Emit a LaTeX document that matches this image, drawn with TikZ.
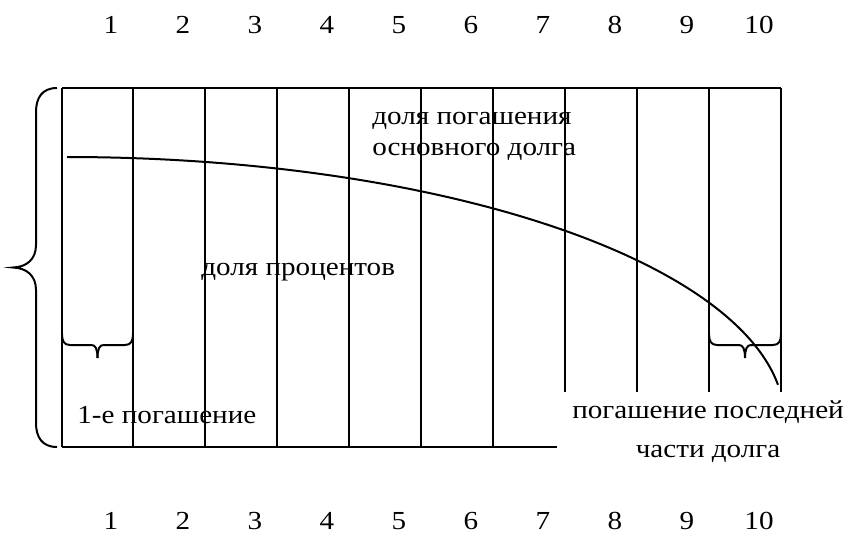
\documentclass[tikz,border=0pt]{standalone}
\usepackage{fontspec}
\setmainfont{Liberation Serif}[FakeStretch=1.12]

\begin{document}
\begin{tikzpicture}[x=0.5pt, y=-0.5pt, every node/.style={font=\fontsize{13}{15.5}\selectfont, inner sep=0pt}, ln/.style={line width=1pt}, lbl/.style={anchor=west, align=left}]
	\useasboundingbox (0,0) rectangle (851,546);
	% column numbers
	\foreach \i in {1,...,10} {
		\node (t\i) at ({111+72*(\i-1)},25) {\i};
		\node (b\i) at ({111+72*(\i-1)},521) {\i};
	}
	% table
	\draw[ln] (62,88) -- (781,88);
	\draw[ln] (62,447) -- (557,447);
	\foreach \x in {62,133,205,277,349,421,493} \draw[ln] (\x,88) -- (\x,447);
	\foreach \x in {565,637,709,781} \draw[ln] (\x,88) -- (\x,392);
	% big brace
	\draw[ln] (57,88) .. controls (42,88) and (36,98) .. (36,112) -- (36,245) .. controls (36,259) and (27,267) .. (13,267.5) .. controls (27,268) and (36,276) .. (36,290) -- (36,423) .. controls (36,437) and (42,447) .. (57,447);
	% small braces
	\foreach \a/\b in {62/133, 709/781} {
		\draw[ln] (\a,334) .. controls (\a,341) and (\a+2,345) .. (\a+8,345) -- ({(\a+\b)/2-6},345) .. controls ({(\a+\b)/2-2},345) and ({(\a+\b)/2},349) .. ({(\a+\b)/2},358);
		\draw[ln] (\b,334) .. controls (\b,341) and (\b-2,345) .. (\b-8,345) -- ({(\a+\b)/2+6},345) .. controls ({(\a+\b)/2+2},345) and ({(\a+\b)/2},349) .. ({(\a+\b)/2},358);
	}
	% curve
	\draw[ln] plot[domain=90:7.7, samples=80, smooth] ({67+717.5*cos(\x)}, {420-263*sin(\x)});
	% labels
	\node[lbl] (osn) at (372,136) {доля погашения\\основного долга};
	\node[lbl] (proc) at (201,272) {доля процентов};
	\node[lbl] (first) at (77,415) {1-е погашение};
	\node[align=center] (last) at (708,432) {погашение последней\\[4pt]части долга};
\end{tikzpicture}
\end{document}
